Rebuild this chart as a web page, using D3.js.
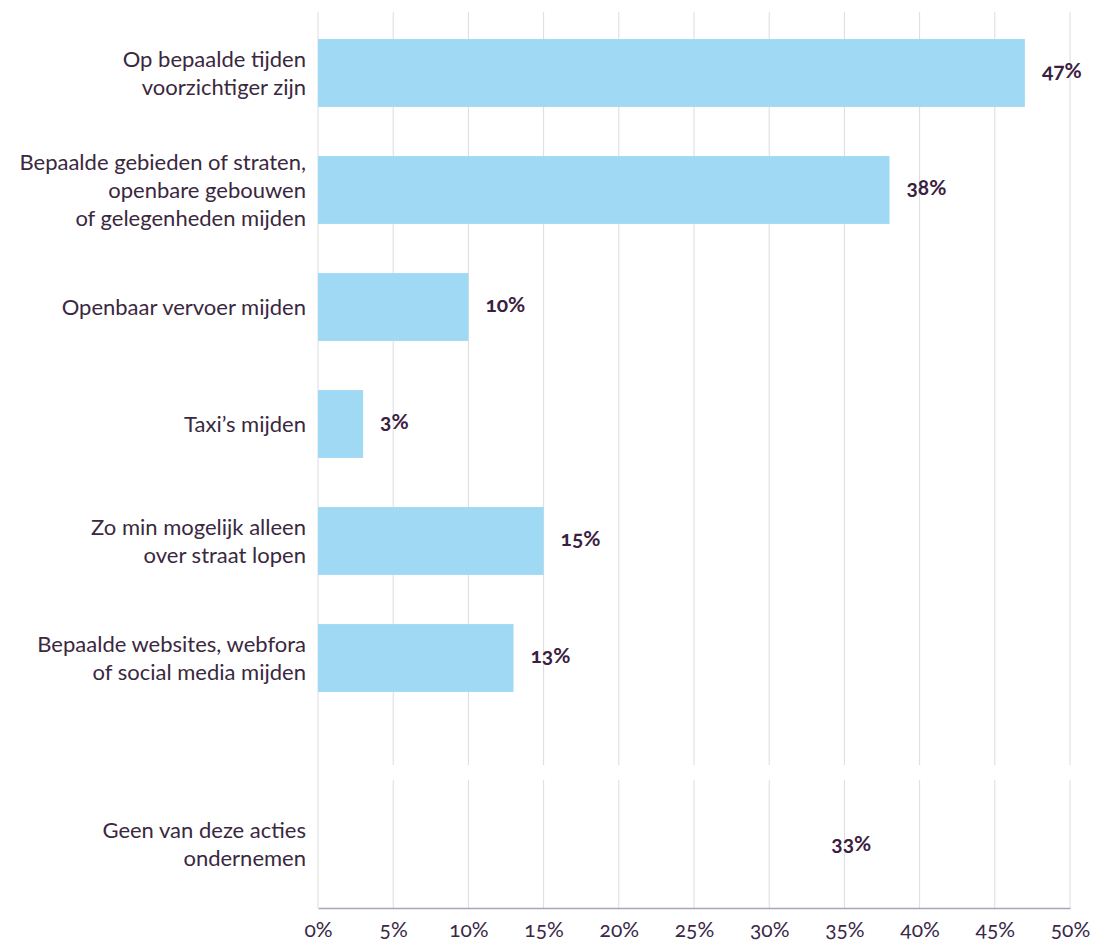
<!DOCTYPE html>
<html>
<head>
<meta charset="utf-8">
<script src="https://cdn.jsdelivr.net/npm/d3@7"></script>
<style>
	body { margin: 0; background: #fff; }
	svg text { font-family: "Lato", "Open Sans", sans-serif; font-variant-numeric: oldstyle-nums; font-feature-settings: "onum" 1; }
	.cat-label { font-size: 22px; fill: #3a2840; }
	.value-label { font-size: 21px; font-weight: bold; fill: #3a2040; }
	.tick-label { font-size: 21px; fill: #3a2848; }
	.grid { stroke: #dcdcdc; stroke-width: 1; }
	.bar { fill: #9fd9f4; }
</style>
</head>
<body>
<div id="chart"></div>
<script>
//data
let categories = [
	"Op bepaalde tijden|voorzichtiger zijn",
	"Bepaalde gebieden of straten,|openbare gebouwen|of gelegenheden mijden",
	"Openbaar vervoer mijden",
	"Taxi\u2019s mijden",
	"Zo min mogelijk alleen|over straat lopen",
	"Bepaalde websites, webfora|of social media mijden"
];
let values = [47, 38, 10, 3, 15, 13];
let noneCategory = ["Geen van deze acties|ondernemen"];
let noneValues = [33];
let ticks = [0, 5, 10, 15, 20, 25, 30, 35, 40, 45, 50];

let width = 1097, height = 947;
let svg = d3.select("#chart").append("svg")
	.attr("width", width)
	.attr("height", height);

//scales
let x = d3.scaleLinear().domain([0, 50]).range([318, 1070]);
let y = d3.scaleBand().domain(categories).range([14.5, 716.5])
	.paddingInner(0.42).paddingOuter(0.21);
let yNone = d3.scaleBand().domain(noneCategory).range([780, 908]);

let gridTop = 12, gridBreak = 765, axisY = 908;

//gridlines, with a small break before the last row
svg.append("g").selectAll("line.top")
	.data(ticks.slice(1))
	.enter().append("line")
	.attr("class", "grid")
	.attr("x1", d => x(d)).attr("x2", d => x(d))
	.attr("y1", gridTop).attr("y2", gridBreak);
svg.append("g").selectAll("line.bottom")
	.data(ticks.slice(1))
	.enter().append("line")
	.attr("class", "grid")
	.attr("x1", d => x(d)).attr("x2", d => x(d))
	.attr("y1", yNone.range()[0]).attr("y2", axisY);
//left edge line
svg.append("line").attr("class", "grid")
	.attr("x1", x(0)).attr("x2", x(0))
	.attr("y1", gridTop).attr("y2", axisY);

//bars
svg.append("g").selectAll("rect")
	.data(values)
	.enter().append("rect")
	.attr("class", "bar")
	.attr("x", x(0))
	.attr("y", (d, i) => y(categories[i]))
	.attr("width", d => x(d) - x(0))
	.attr("height", y.bandwidth());

//category labels (multi line)
let addLabels = function(cats, scale) {
	let lineH = 28;
	cats.forEach(c => {
		let lines = c.split("|");
		let cy = scale(c) + scale.bandwidth() / 2;
		let t = svg.append("text")
			.attr("class", "cat-label")
			.attr("text-anchor", "end");
		lines.forEach((l, j) => {
			t.append("tspan")
				.attr("x", 306)
				.attr("y", cy + (j - (lines.length - 1) / 2) * lineH)
				.attr("dy", "0.35em")
				.text(l);
		});
	});
};
addLabels(categories, y);
addLabels(noneCategory, yNone);

//value labels
svg.append("g").selectAll("text")
	.data(values)
	.enter().append("text")
	.attr("class", "value-label")
	.attr("x", d => x(d) + 17)
	.attr("y", (d, i) => y(categories[i]) + y.bandwidth() / 2 - 2)
	.attr("dy", "0.35em")
	.text(d => d + "%");
svg.append("g").selectAll("text")
	.data(noneValues)
	.enter().append("text")
	.attr("class", "value-label")
	.attr("x", d => x(d) + 17)
	.attr("y", (d, i) => yNone(noneCategory[i]) + yNone.bandwidth() / 2)
	.attr("dy", "0.35em")
	.text(d => d + "%");

//x axis
let xAxis = svg.append("g")
	.attr("transform", `translate(0, ${axisY})`)
	.call(d3.axisBottom(x).tickValues(ticks).tickSize(0).tickPadding(14).tickFormat(d => d + "%"));
xAxis.select(".domain").attr("stroke", "#a8a8b4").attr("stroke-width", 1.5);
xAxis.selectAll("text").attr("class", "tick-label").attr("font-size", null).attr("font-family", null).attr("fill", null);
</script>
</body>
</html>
